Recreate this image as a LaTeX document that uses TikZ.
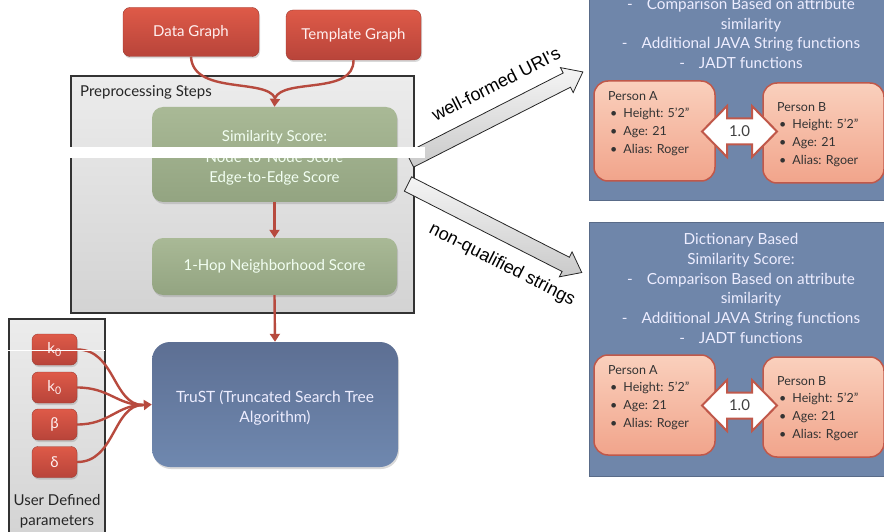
\documentclass[tikz,border=0pt]{standalone}
\usepackage{fontspec}
\setmainfont{Lato}
\newfontfamily\arialfont{Liberation Sans}
\usetikzlibrary{arrows.meta,shadows,calc}
\definecolor{redtop}{HTML}{DE5A48}
\definecolor{redbot}{HTML}{B8443A}
\definecolor{curvecol}{HTML}{B74A3E}
\definecolor{greentop}{HTML}{A9B996}
\definecolor{greenbot}{HTML}{93A481}
\definecolor{bluepanel}{HTML}{6F86AA}
\definecolor{trusttop}{HTML}{5D6F93}
\definecolor{trustbot}{HTML}{6F88AF}
\definecolor{salmtop}{HTML}{FAD0BD}
\definecolor{salmbot}{HTML}{F1A48B}
\definecolor{salmline}{HTML}{C0584A}
\definecolor{graytop}{HTML}{ECECEC}
\definecolor{graybot}{HTML}{D3D3D3}
\begin{document}
\begin{tikzpicture}[x=1pt,y=-1pt,
  shad/.style={drop shadow={opacity=0.3,shadow xshift=1pt,shadow yshift=-2pt}},
  redbox/.style={shad,rounded corners=7pt,top color=redtop,bottom color=redbot,draw=redbot!85!black,line width=0.4pt,text=white!94!red,font=\fontsize{15}{18}\selectfont,inner sep=0pt},
  parbox/.style={redbox,minimum width=45pt,minimum height=31pt,rounded corners=6pt},
  greenbox/.style={shad,rounded corners=11pt,top color=greentop,bottom color=greenbot,text=white!95!green,font=\fontsize{15}{20.5}\selectfont,align=center,inner sep=0pt,minimum width=245pt},
  greentext/.style={text=white!95!green,font=\fontsize{15}{20.5}\selectfont,align=center,inner sep=0pt},
  graybox/.style={draw=black!80,line width=1.2pt,top color=graytop,bottom color=graybot,inner sep=0pt},
  trustbox/.style={shad,rounded corners=18pt,top color=trusttop,bottom color=trustbot,minimum width=246pt,minimum height=125pt,inner sep=0pt},
  trusttext/.style={text=white!93!blue,font=\fontsize{15.5}{20}\selectfont,align=center,inner sep=0pt},
  panel/.style={fill=bluepanel,draw=bluepanel!80!black,line width=0.6pt,inner sep=0pt},
  paneltext/.style={text=white!93!blue,font=\fontsize{15.3}{19.8}\selectfont,align=center,inner sep=0pt},
  personbox/.style={rounded corners=14pt,top color=salmtop,bottom color=salmbot,draw=salmline,line width=1.5pt,minimum width=121pt,minimum height=100pt,inner sep=0pt},
  persontext/.style={font=\fontsize{12.5}{17.7}\selectfont,text=black!80,align=left,anchor=north west,inner sep=0pt},
  conn/.style={draw=curvecol,line width=2.4pt,-{Triangle[length=8pt,width=10pt]}},
  curveline/.style={draw=curvecol,line width=2.4pt},
  bigarr/.style={draw=black!85,line width=0.8pt,top color=gray!8,bottom color=gray!42,line join=miter},
  arrowlbl/.style={font=\arialfont\fontsize{18}{20}\selectfont,text=black,inner sep=0pt},
  dblarr/.style={fill=white,draw=salmline,line width=2pt,line join=miter},
  onetext/.style={font=\fontsize{15}{17}\selectfont,text=black!75,inner sep=0pt},
]
\useasboundingbox (0,0) rectangle (884,532);
\clip (0,0) rectangle (884,532);

% ---------- left: inputs ----------
\node[redbox,minimum width=136pt,minimum height=49pt] (dg) at (191,32) {Data Graph};
\node[redbox,minimum width=135pt,minimum height=50pt] (tg) at (353.5,35) {Template Graph};

% preprocessing container
\node[graybox,minimum width=343pt,minimum height=237pt] (pre) at (242.5,194.5) {};
\node[anchor=west,font=\fontsize{15}{17}\selectfont,text=black!85,inner sep=0pt] (prelbl) at (80,92) {Preprocessing Steps};

\node[greenbox,minimum height=95pt] (sim) at (274.5,154.5) {};
\node[greentext] (simt) at (274.5,158) {Similarity Score:\\Node-to-Node Score\\Edge-to-Edge Score};
\node[greenbox,minimum height=57pt] (hop) at (274.5,266.5) {1-Hop Neighborhood Score};

\coordinate (m) at (275,98);
\draw[curveline] (dg.south) .. controls (193,95) and (266,78) .. (m);
\draw[curveline] (tg.south) .. controls (354,95) and (284,78) .. (m);
\draw[conn] (m) -- (sim.north);
\draw[conn] (sim.south) -- (hop.north);

% TruST
\node[trustbox] (trust) at (275,404.5) {};
\node[trusttext] (trustt) at (275,407.5) {TruST (Truncated Search Tree\\Algorithm)};
\draw[conn] (hop.south) -- (trust.north);

% user defined parameters
\node[graybox,minimum width=96pt,minimum height=222pt] (user) at (57,430) {};
\node[font=\fontsize{15}{20}\selectfont,text=black!85,align=center,inner sep=0pt] (userlbl) at (57,511) {User Defined\\parameters};
\node[parbox] (ka) at (54.5,349.5) {k\textsubscript{0}};
\node[parbox] (kb) at (54.5,387.5) {k\textsubscript{0}};
\node[parbox] (pb) at (54.5,424.5) {β};
\node[parbox] (pd) at (54.5,462) {δ};
\coordinate (tm) at (143,405);
\draw[curveline] (ka.east) .. controls +(38,0) and +(-30,0) .. (tm);
\draw[curveline] (kb.east) .. controls +(32,0) and +(-26,0) .. (tm);
\draw[curveline] (pb.east) .. controls +(32,0) and +(-26,0) .. (tm);
\draw[curveline] (pd.east) .. controls +(38,0) and +(-30,0) .. (tm);
\draw[conn] (tm) -- (trust.west);

% ---------- big grey arrows ----------
\begin{scope}[shift={(410,160)},rotate=27]
  \draw[bigarr] (0,-8) -- (176,-8) -- (176,-14) -- (194,0) -- (176,14) -- (176,8) -- (0,8) -- cycle;
\end{scope}
\begin{scope}[shift={(408,184)},rotate=-27]
  \draw[bigarr] (0,-8) -- (177,-8) -- (177,-14) -- (195,0) -- (177,14) -- (177,8) -- (0,8) -- cycle;
\end{scope}
\node[arrowlbl,rotate=27] (wf) at (496,84) {well-formed URI's};
\node[arrowlbl,rotate=-27] (nq) at (502,265) {non-qualified strings};

% ---------- right panels ----------
\node[panel,minimum width=300pt,minimum height=262pt] (p1) at (739,69) {};
\node[paneltext] (p1t) at (741,33.5) {-\hspace{14pt}Comparison Based on attribute\\\hspace{20pt}similarity\\-\hspace{14pt}Additional JAVA String functions\\-\hspace{14pt}JADT functions};

\node[panel,minimum width=300pt,minimum height=254pt] (p2) at (739,349) {};
\node[paneltext] (p2t) at (741,288.5) {Dictionary Based\\Similarity Score:\\-\hspace{14pt}Comparison Based on attribute\\\hspace{20pt}similarity\\-\hspace{14pt}Additional JAVA String functions\\-\hspace{14pt}JADT functions};

\foreach \pre/\dy in {top-/-274, bot-/0}{
\begin{scope}[yshift=-\dy pt,name prefix=\pre]
  \node[personbox] (pa) at (654.5,405) {};
  \node[personbox] (pbx) at (823.5,407) {};
  \node[persontext] (pat) at (608,365) {Person A\\\hspace{2pt}\textbullet\hspace{6pt}Height: 5'2''\\\hspace{2pt}\textbullet\hspace{6pt}Age: 21\\\hspace{2pt}\textbullet\hspace{6pt}Alias: Roger};
  \node[persontext] (pbt) at (777,376) {Person B\\\hspace{2pt}\textbullet\hspace{6pt}Height: 5'2''\\\hspace{2pt}\textbullet\hspace{6pt}Age: 21\\\hspace{2pt}\textbullet\hspace{6pt}Alias: Rgoer};
  \coordinate (dc) at (739.5,405.5);
  \begin{scope}[shift={(dc)}]
    \draw[dblarr] (-37.5,0) -- (-12.5,-25.5) -- (-12.5,-13) -- (12.5,-13) -- (12.5,-25.5) -- (37.5,0) -- (12.5,25.5) -- (12.5,13) -- (-12.5,13) -- (-12.5,25.5) -- cycle;
  \end{scope}
  \node[onetext] (one) at (dc) {1.0};
\end{scope}
}

% ---------- scan artefacts ----------
\fill[white] (70,147) rectangle (425,158);
\draw[white,line width=1pt] (0,350) -- (105,350);
\end{tikzpicture}
\end{document}
